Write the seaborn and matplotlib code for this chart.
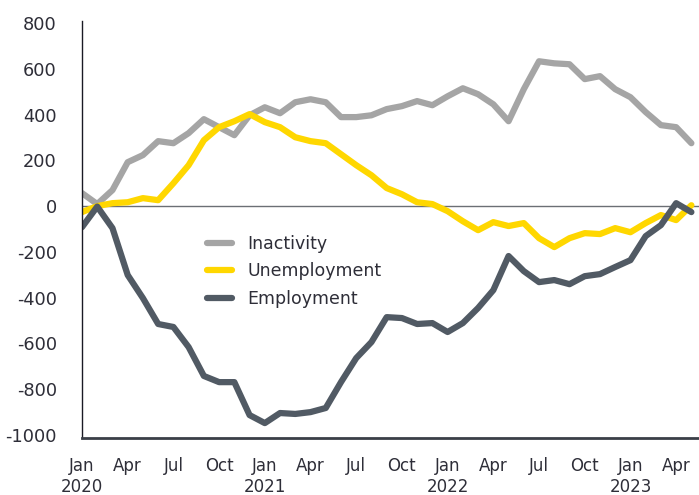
import numpy as np
import pandas as pd
import seaborn as sns
import matplotlib.pyplot as plt

# monthly change, '000 (Jan 2020 - May 2023)
months = pd.date_range('2020-01-01', '2023-05-01', freq='MS')

inactivity = [57, 9, 70, 192, 223, 284, 275, 319, 380, 345, 310, 397, 432, 406,
              454, 467, 454, 389, 389, 397, 424, 437, 459, 441, 480, 515, 489,
              445, 371, 511, 633, 624, 620, 555, 568, 511, 476, 411, 354, 345, 275]
unemployment = [-26, 0, 13, 17, 35, 26, 100, 179, 288, 345, 371, 402, 367, 345,
                301, 284, 275, 227, 179, 135, 79, 52, 17, 9, -22, -66, -105,
                -70, -87, -74, -140, -179, -140, -118, -122, -96, -114, -74, -39, -61, 4]
employment = [-92, -2, -96, -301, -402, -515, -528, -616, -742, -769, -769, -913,
              -948, -904, -908, -900, -882, -769, -664, -594, -485, -489, -515,
              -511, -550, -511, -445, -367, -218, -284, -332, -323, -341, -306,
              -297, -266, -236, -131, -83, 13, -26]

series = ['Inactivity', 'Unemployment', 'Employment']
colors = ['#A5A5A5', '#FFD700', '#515A64']

df = pd.DataFrame({'month': np.arange(len(months)),
                   'Inactivity': inactivity,
                   'Unemployment': unemployment,
                   'Employment': employment})
df = df.melt(id_vars='month', var_name='series', value_name='value')

sns.set_style('white')
plt.rcParams['font.family'] = ['DejaVu Sans']

fig = plt.figure(figsize=(6.99, 4.95), dpi=100)
ax = fig.add_axes([0.1173, 0.1152, 0.8827, 0.8424])

sns.lineplot(data=df, x='month', y='value', hue='series', hue_order=series,
             palette=colors, linewidth=4.5, ax=ax, legend=True)

ax.axhline(0, color='#6B6F75', linewidth=1.0, zorder=0)

ax.set_xlim(0, 40.5)
ax.set_ylim(-1013, 809)
ax.set_yticks(range(-1000, 801, 200))
ax.set_yticklabels([str(v) for v in range(-1000, 801, 200)], fontsize=12.8, color='#2E2E38')

# quarter ticks, year under each January
tick_pos = list(range(0, 41, 3))
labels = []
for p in tick_pos:
    m = months[p]
    lab = m.strftime('%b')
    if m.month == 1:
        lab += '\n' + str(m.year)
    labels.append(lab)
ax.set_xticks(tick_pos)
ax.set_xticklabels(labels, fontsize=12, color='#2E2E38', linespacing=1.15)
ax.tick_params(axis='both', length=0)
ax.tick_params(axis='y', pad=18)
ax.tick_params(axis='x', pad=14)

ax.set_xlabel('')
ax.set_ylabel('')

for s in ['top', 'right']:
    ax.spines[s].set_visible(False)
ax.spines['left'].set_color('#1A1A24')
ax.spines['left'].set_linewidth(1.0)
ax.spines['bottom'].set_color('#3A3F47')
ax.spines['bottom'].set_linewidth(2.0)

handles, labs = ax.get_legend_handles_labels()
ax.legend(handles, labs, loc='upper left', bbox_to_anchor=(0.178, 0.525),
          frameon=False, fontsize=12.5, handlelength=1.4, handletextpad=0.9,
          labelspacing=0.55, labelcolor='#2E2E38')

fig.savefig('out.png', dpi=100)
